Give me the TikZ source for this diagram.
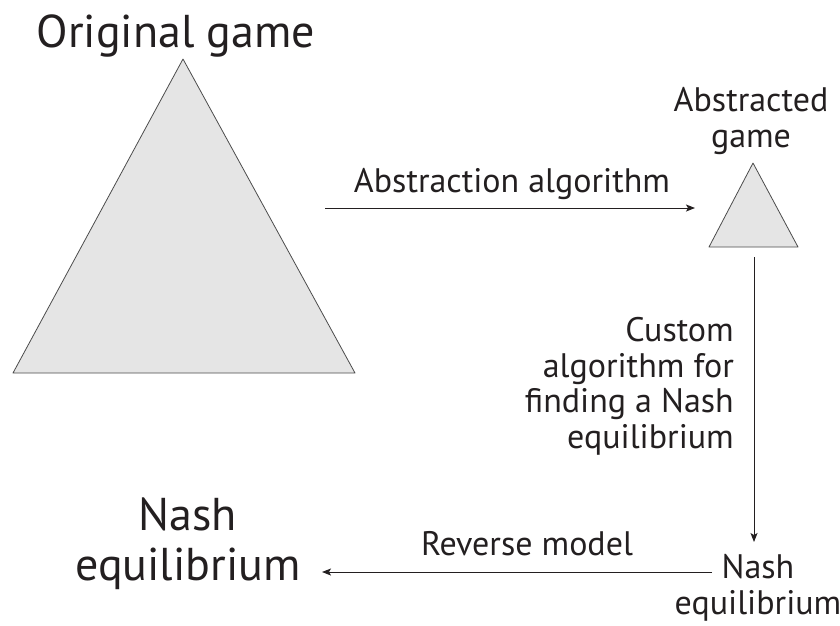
\documentclass[tikz,border=0pt]{standalone}
\usepackage{fontspec}
\setmainfont{PT Sans}
\usetikzlibrary{
    arrows.meta,
    positioning
}
\definecolor{ink}{HTML}{231F20}

\begin{document}
\begin{tikzpicture}[x=1pt,y=-1pt,
    game/.style={draw=black!70,fill=black!10,line width=0.8pt,line join=round},
    flow/.style={-{Stealth[length=9pt,width=7pt,inset=2pt]},line width=1pt,draw=ink},
    bigtext/.style={font=\fontsize{46}{50}\selectfont,text=ink,inner sep=0pt,align=center},
    smalltext/.style={font=\fontsize{34}{35.5}\selectfont,text=ink,inner sep=0pt}]
    \useasboundingbox (0,0) rectangle (840,625);

    % the two games
    \draw[game] (13,373) -- (183,59) -- (355,373) -- cycle;
    \draw[game] (709,247) -- (753,163) -- (798,247) -- cycle;

    % base of a multi-line node is its last line
    \node[bigtext,anchor=base]   (orig)   at (176,47)  {Original game};
    \node[smalltext,anchor=base,align=center] (abs) at (751,147) {Abstracted\\game};
    \node[smalltext,anchor=base east,align=right] (custom) at (734,448)
        {Custom\\algorithm for\\finding a Nash\\equilibrium};
    \node[smalltext,anchor=base,align=center] (eqsmall) at (758,614) {Nash\\equilibrium};
    \node[bigtext,anchor=base]   (eqbig)  at (188,580) {Nash\\equilibrium};
    \node[smalltext,anchor=base] (absalg) at (512,192) {Abstraction algorithm};
    \node[smalltext,anchor=base] (rev)    at (527,555) {Reverse model};

    % arrow ends
    \coordinate (orig-out) at (325,208);
    \coordinate (abs-in)   at (695,208);
    \coordinate (abs-out)  at (754,257);
    \coordinate (eq-in)    at (754,542);
    \coordinate (eq-out)   at (712,572);
    \coordinate (big-in)   at (322,572);

    \draw[flow] (orig-out) -- (abs-in);
    \draw[flow] (abs-out) -- (eq-in);
    \draw[flow] (eq-out) -- (big-in);
\end{tikzpicture}
\end{document}
